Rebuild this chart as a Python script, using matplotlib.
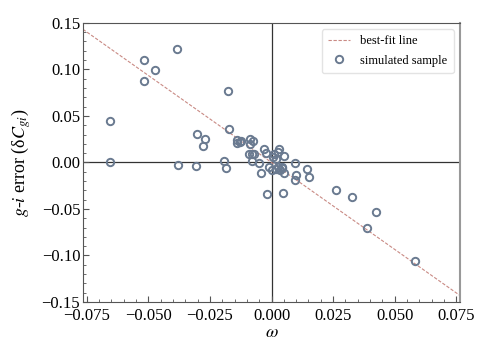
import numpy as np
import matplotlib
matplotlib.use("Agg")
import matplotlib.pyplot as plt
from matplotlib.ticker import MultipleLocator, FuncFormatter

plt.rcParams['font.family'] = 'serif'
plt.rcParams['font.serif'] = ['Liberation Serif', 'DejaVu Serif']
plt.rcParams['mathtext.fontset'] = 'stix'

# simulated sample (omega, g-i error)
omega = [-0.0655, -0.0655, -0.0516, -0.0519, -0.0472, -0.0385, -0.0379, -0.0307,
         -0.0302, -0.0268, -0.0277, -0.0193, -0.0185, -0.0176, -0.0172, -0.0139,
         -0.0142, -0.0128, -0.0122, -0.0088, -0.0077, -0.0088, -0.0031, -0.0091,
         -0.0081, -0.0071, -0.0079, -0.0050, -0.0023, -0.0041, 0.0030, 0.0027,
         0.0050, 0.0007, 0.0017, -0.0012, 0.0000, 0.0017, 0.0027, 0.0034,
         0.0041, 0.0050, 0.0094, 0.0098, 0.0094, 0.0142, 0.0152, -0.0018,
         0.0047, 0.0261, 0.0327, 0.0423, 0.0386, 0.0584, 0.0043, 0.0011]
gi_err = [0.0450, 0.0000, 0.1098, 0.0876, 0.0994, 0.1216, -0.0026, -0.0034,
          0.0304, 0.0253, 0.0175, 0.0017, -0.0056, 0.0773, 0.0357, 0.0239,
          0.0204, 0.0221, 0.0232, 0.0250, 0.0229, 0.0193, 0.0143, 0.0086,
          0.0089, 0.0086, 0.0017, -0.0004, 0.0097, -0.0118, 0.0139, 0.0107,
          0.0068, 0.0060, 0.0032, -0.0047, -0.0083, -0.0069, -0.0047, -0.0083,
          -0.0064, -0.0118, -0.0004, -0.0136, -0.0190, -0.0072, -0.0155, -0.0340,
          -0.0326, -0.0297, -0.0376, -0.0536, -0.0702, -0.1064, -0.0047, 0.0086]

fit_slope = -1.87
fit_intercept = 0.0

xlim = (-0.0765, 0.0765)
ylim = (-0.15, 0.15)


def minus_fmt(ndig):
    return FuncFormatter(lambda v, pos: ('%.*f' % (ndig, v)).replace('-', '\u2212'))


fig = plt.figure(figsize=(4.91, 3.57), dpi=100)
ax = fig.add_axes([0.169, 0.154, 0.768, 0.782])

ax.axhline(0, color='#333333', lw=0.9, zorder=1)
ax.axvline(0, color='#333333', lw=0.9, zorder=1)

xs = np.array(xlim)
ax.plot(xs, fit_slope * xs + fit_intercept, ls='--', color='#c98a84', lw=0.8,
        dashes=(3, 1.5), label='best-fit line', zorder=2)
ax.plot(omega, gi_err, ls='none', marker='o', ms=5.3, mfc='none', mec='#6a7a90',
        mew=1.4, label='simulated sample', zorder=3)

ax.set_xlim(*xlim)
ax.set_ylim(*ylim)
ax.xaxis.set_major_locator(MultipleLocator(0.025))
ax.xaxis.set_minor_locator(MultipleLocator(0.005))
ax.yaxis.set_major_locator(MultipleLocator(0.05))
ax.yaxis.set_minor_locator(MultipleLocator(0.01))
ax.xaxis.set_major_formatter(minus_fmt(3))
ax.yaxis.set_major_formatter(minus_fmt(2))
ax.tick_params(which='both', direction='in', top=False, right=False,
               labelsize=12, color='#555555')
ax.tick_params(which='major', length=4, pad=2)
ax.tick_params(axis='x', which='major', pad=4)
ax.tick_params(which='minor', length=2)

for s in ['left', 'bottom', 'top']:
    ax.spines[s].set_color('#555555')
ax.spines['right'].set_color('#999999')
ax.spines['right'].set_linewidth(1.5)

ax.set_xlabel(r'$\omega$', fontsize=13, labelpad=0)
ax.set_ylabel(r'$g$-$i$ error (δ$C_{gi}$)', fontsize=13, labelpad=6)

leg = ax.legend(loc='upper right', fontsize=9, frameon=True, fancybox=True,
                edgecolor='#dddddd', handlelength=1.8, borderpad=0.5,
                labelspacing=0.6)

fig.savefig('out.png', dpi=100)
